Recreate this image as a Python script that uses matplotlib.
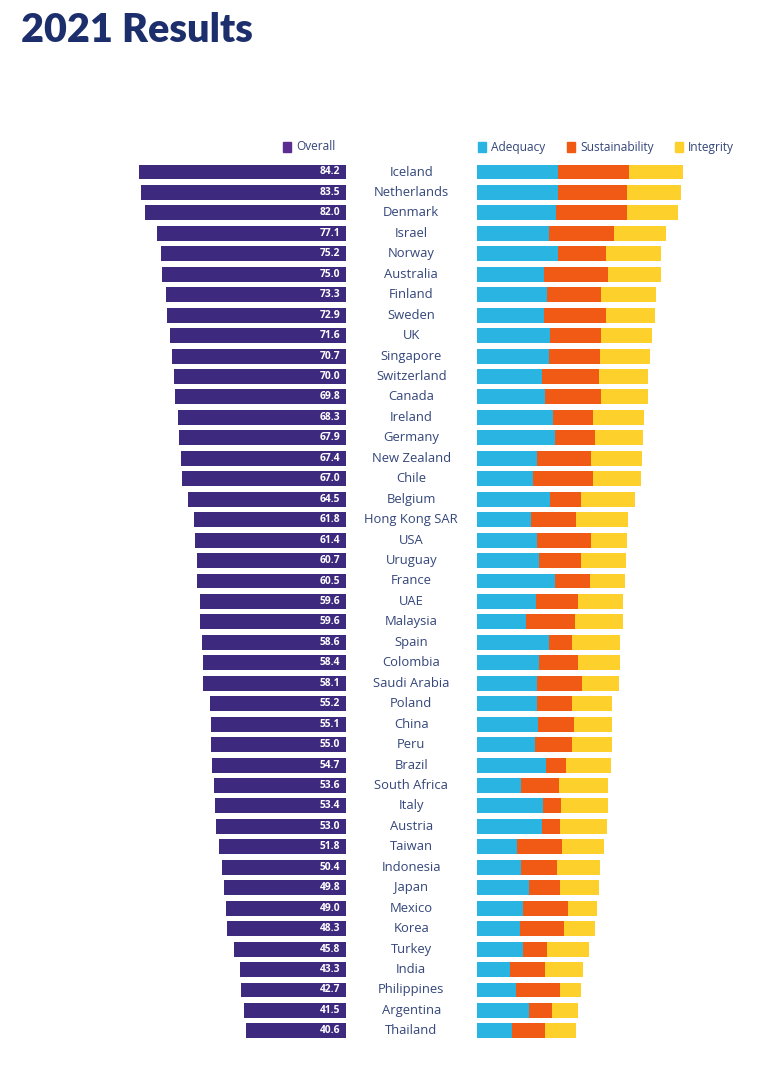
import numpy as np
import matplotlib.pyplot as plt

countries = ["Iceland", "Netherlands", "Denmark", "Israel", "Norway", "Australia",
             "Finland", "Sweden", "UK", "Singapore", "Switzerland", "Canada",
             "Ireland", "Germany", "New Zealand", "Chile", "Belgium", "Hong Kong SAR",
             "USA", "Uruguay", "France", "UAE", "Malaysia", "Spain", "Colombia",
             "Saudi Arabia", "Poland", "China", "Peru", "Brazil", "South Africa",
             "Italy", "Austria", "Taiwan", "Indonesia", "Japan", "Mexico", "Korea",
             "Turkey", "India", "Philippines", "Argentina", "Thailand"]

overall = [84.2, 83.5, 82.0, 77.1, 75.2, 75.0, 73.3, 72.9, 71.6, 70.7, 70.0, 69.8,
           68.3, 67.9, 67.4, 67.0, 64.5, 61.8, 61.4, 60.7, 60.5, 59.6, 59.6, 58.6,
           58.4, 58.1, 55.2, 55.1, 55.0, 54.7, 53.6, 53.4, 53.0, 51.8, 50.4, 49.8,
           49.0, 48.3, 45.8, 43.3, 42.7, 41.5, 40.6]

# weighted contributions of each sub-index to the overall score
adequacy = [33.2, 33.0, 32.2, 29.7, 33.0, 27.4, 28.8, 27.4, 30.0, 29.6, 26.5, 28.0,
            31.1, 32.0, 24.7, 23.1, 30.0, 22.4, 24.7, 25.4, 31.8, 24.1, 20.2, 29.5,
            25.4, 24.7, 24.6, 25.1, 23.7, 28.4, 18.0, 27.2, 26.5, 16.5, 18.0, 21.4,
            19.1, 17.6, 19.1, 13.7, 15.9, 21.4, 14.3]
sustainability = [29.1, 28.5, 29.0, 26.4, 19.7, 26.3, 21.8, 25.2, 20.6, 20.9, 23.2, 22.6,
                  16.5, 16.1, 22.0, 24.2, 12.6, 18.0, 22.0, 17.1, 14.4, 17.4, 20.0, 9.3,
                  16.0, 18.1, 14.2, 14.7, 15.4, 8.1, 15.8, 7.1, 7.6, 18.3, 14.8, 12.5,
                  18.3, 17.9, 9.7, 14.2, 18.0, 9.2, 13.8]
integrity = [21.9, 22.0, 20.8, 21.0, 22.5, 21.3, 22.7, 20.3, 21.0, 20.2, 20.3, 19.2,
             20.7, 19.8, 20.7, 19.7, 21.9, 21.4, 14.7, 18.2, 14.3, 18.1, 19.4, 19.8,
             17.0, 15.3, 16.4, 15.3, 15.9, 18.2, 19.8, 19.1, 18.9, 17.0, 17.6, 15.9,
             11.6, 12.8, 17.0, 15.4, 8.8, 10.9, 12.5]

PURPLE = "#3d2a7e"
CYAN = "#29b4e1"
ORANGE = "#f15a14"
YELLOW = "#fdd02b"
TEXT = "#34467a"
NAVY = "#1c2f6c"

plt.rcParams['font.family'] = ['Open Sans', 'DejaVu Sans']

fig = plt.figure(figsize=(7.68, 10.73), dpi=100)
ax = fig.add_axes([0, 0, 1, 1])

px = 2.455          # pixels per score point
row = 20.45         # pixels per row
gap = 130.5 / px    # space between the two bar groups
y = np.arange(len(countries))
h = 0.73

ax.barh(y, [-v for v in overall], height=h, color=PURPLE)
for yi, v in zip(y, overall):
    ax.text(-2.4, yi, f"{v:.1f}", ha="right", va="center", color="white",
            fontsize=7.4, fontweight="bold")
for yi, c in zip(y, countries):
    ax.text(gap / 2, yi, c, ha="center", va="center", color=TEXT, fontsize=9.4)

a = np.array(adequacy)
s = np.array(sustainability)
i = np.array(integrity)
ax.barh(y, a, left=gap, height=h, color=CYAN)
ax.barh(y, s, left=gap + a, height=h, color=ORANGE)
ax.barh(y, i, left=gap + a + s, height=h, color=YELLOW)

ax.set_xlim(-346 / px, (768 - 346) / px)
ax.set_ylim((1073 - 172) / row, -172 / row)
ax.axis("off")

# legend
def legend_item(x, label, color):
    fig.patches.append(plt.Rectangle((x / 768, 1 - 152 / 1073), 8 / 768, 10 / 1073,
                                     transform=fig.transFigure, color=color))
    fig.text((x + 13) / 768, 1 - 147 / 1073, label, ha="left", va="center",
             color=TEXT, fontsize=8.6)

legend_item(283, "Overall", "#5b2d91")
legend_item(478, "Adequacy", CYAN)
legend_item(567, "Sustainability", ORANGE)
legend_item(675, "Integrity", YELLOW)

fig.text(21 / 768, 1 - 31 / 1073, "2021 Results", ha="left", va="center",
         color=NAVY, fontsize=28.5, fontweight="heavy", family=["Lato", "DejaVu Sans"])

fig.savefig("out.png", dpi=100)
